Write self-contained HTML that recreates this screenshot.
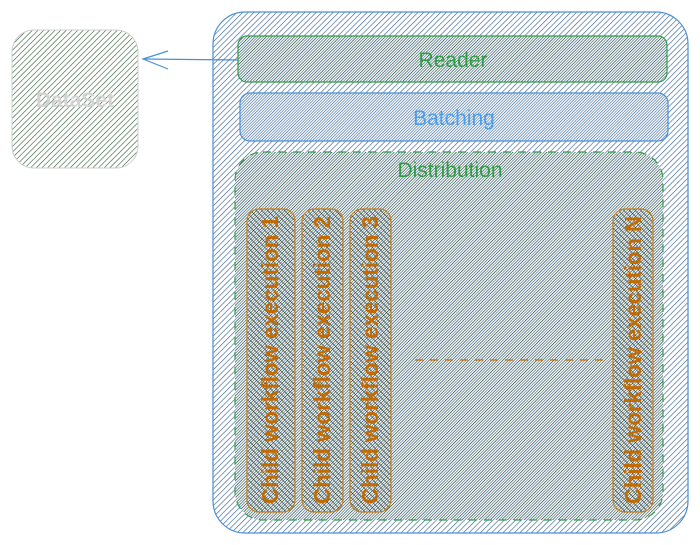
<!DOCTYPE html>
<html><head><meta charset="utf-8"><style>
html,body{margin:0;padding:0;background:#fff;width:700px;height:545px;overflow:hidden}
svg text{font-family:"Liberation Sans",sans-serif}
</style></head><body>
<svg width="700" height="545" viewBox="0 0 700 545" xmlns="http://www.w3.org/2000/svg">
<defs>
<pattern id="hb" width="4" height="4" patternUnits="userSpaceOnUse" patternTransform="rotate(45)"><line x1="0" y1="0" x2="0" y2="4" stroke="#3d6796" stroke-width="1.3"/></pattern>
<pattern id="hb2" width="4" height="4" patternUnits="userSpaceOnUse" patternTransform="rotate(45) translate(2,0)"><line x1="0" y1="0" x2="0" y2="4" stroke="#4a78b0" stroke-width="1.3"/></pattern>
<pattern id="hg" width="4" height="4" patternUnits="userSpaceOnUse" patternTransform="rotate(45) translate(2,0)"><line x1="0" y1="0" x2="0" y2="4" stroke="#163d22" stroke-width="1.3"/></pattern>
<pattern id="hgd" width="4" height="4" patternUnits="userSpaceOnUse" patternTransform="rotate(45)"><line x1="0" y1="0" x2="0" y2="4" stroke="#2f5c37" stroke-width="1.2"/></pattern>
<pattern id="hx" width="4" height="4" patternUnits="userSpaceOnUse" patternTransform="rotate(-45)"><line x1="0" y1="0" x2="0" y2="4" stroke="#2e3a2e" stroke-width="1.2"/></pattern>
</defs>
<rect x="12" y="30" width="126" height="138" rx="22" fill="url(#hgd)" stroke="#cfcfcf" stroke-width="1"/>
<text x="75" y="107" font-size="21" font-weight="bold" fill="#d4d4d4" text-anchor="middle">DataSet</text>
<line x1="238" y1="60" x2="143" y2="59" stroke="#4a90d9" stroke-width="1.2"/>
<polyline points="168,51 143,59 168,69" fill="none" stroke="#4a90d9" stroke-width="1.2"/>
<rect x="213" y="12" width="475" height="521" rx="32" fill="url(#hb)" stroke="#4a90d9" stroke-width="1.2"/>
<rect x="238" y="36" width="429" height="46" rx="9" fill="url(#hg)" stroke="#2f9e44" stroke-width="1.2"/>
<text x="453" y="67" font-size="21" fill="#2f9e44" text-anchor="middle">Reader</text>
<rect x="240" y="93" width="428" height="48" rx="10" fill="url(#hb2)" stroke="#4a90d9" stroke-width="1.2"/>
<text x="454" y="125" font-size="21" fill="#4a9eed" text-anchor="middle">Batching</text>
<rect x="235" y="152" width="428" height="368" rx="28" fill="url(#hg)" stroke="#2f9e44" stroke-width="1.2" stroke-dasharray="8 7"/>
<text x="450" y="177" font-size="21" fill="#2f9e44" text-anchor="middle">Distribution</text>
<g stroke="#c77c1a" stroke-width="1.2">
<rect x="247" y="209" width="48" height="303" rx="12" fill="url(#hx)"/>
<rect x="302" y="209" width="41" height="303" rx="12" fill="url(#hx)"/>
<rect x="350" y="209" width="41" height="303" rx="12" fill="url(#hx)"/>
<rect x="613" y="209" width="40" height="303" rx="12" fill="url(#hx)"/>
</g>
<g font-size="23" fill="#c56a00" text-anchor="middle" font-weight="bold">
<text transform="translate(278,360) rotate(-90)" textLength="288" lengthAdjust="spacingAndGlyphs">Child workflow execution 1</text>
<text transform="translate(330,360) rotate(-90)" textLength="288" lengthAdjust="spacingAndGlyphs">Child workflow execution 2</text>
<text transform="translate(378,360) rotate(-90)" textLength="288" lengthAdjust="spacingAndGlyphs">Child workflow execution 3</text>
<text transform="translate(641,360) rotate(-90)" textLength="288" lengthAdjust="spacingAndGlyphs">Child workflow execution N</text>
</g>
<line x1="415" y1="360" x2="610" y2="360" stroke="#c56a00" stroke-width="1.2" stroke-dasharray="8 7"/>
</svg>
</body></html>
